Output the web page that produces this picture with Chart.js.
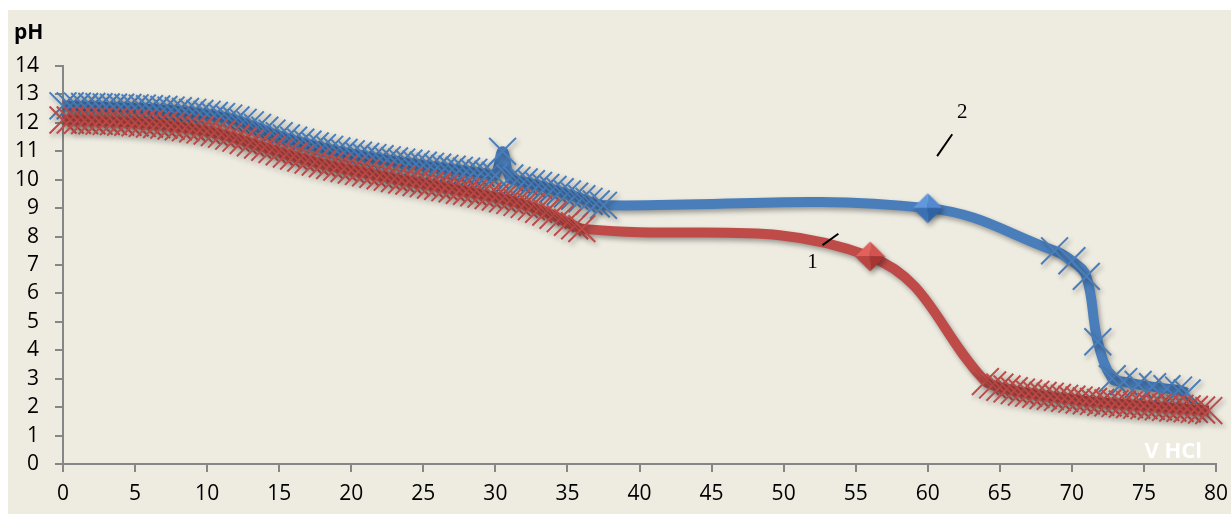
<!DOCTYPE html>
<html>
<head>
<meta charset="utf-8">
<script src="https://cdn.jsdelivr.net/npm/chart.js@4.4.1/dist/chart.umd.min.js"></script>
<style>
  html, body { margin: 0; padding: 0; background: #ffffff; }
  canvas { display: block; }
</style>
</head>
<body>
<canvas id="titration" width="1231" height="514"></canvas>
<script>
// Titration curves: pH against added volume of HCl (mL)

// Curve 1 (red)
const redVolume = [0,0.5,1,1.5,2,2.5,3,3.5,4,4.5,5,5.5,6,6.5,7,7.5,8,8.5,9,9.5,
  10,10.5,11,11.5,12,12.5,13,13.5,14,14.5,15,15.5,16,16.5,17,17.5,18,18.5,19,19.5,
  20,20.5,21,21.5,22,22.5,23,23.5,24,24.5,25,25.5,26,26.5,27,27.5,28,28.5,29,29.5,
  30,30.5,31,31.5,32,32.5,33,33.5,34,34.5,35,35.5,36,
  56,
  64,64.5,65,65.5,66,66.5,67,67.5,68,68.5,69,69.5,70,70.5,71,71.5,72,72.5,73,73.5,
  74,74.5,75,75.5,76,76.5,77,77.5,78,78.5,79,79.5];
const redPH = [12.1,12.1,12.09,12.08,12.07,12.06,12.05,12.04,12.03,12.02,
  12.0,11.98,11.96,11.94,11.92,11.89,11.86,11.83,11.79,11.75,
  11.71,11.66,11.6,11.53,11.46,11.38,11.3,11.22,11.14,11.06,
  10.98,10.9,10.83,10.76,10.69,10.62,10.56,10.5,10.44,10.39,
  10.34,10.29,10.24,10.19,10.14,10.09,10.04,9.99,9.95,9.9,
  9.86,9.81,9.77,9.72,9.68,9.63,9.59,9.54,9.49,9.44,
  9.39,9.33,9.27,9.2,9.13,9.05,8.96,8.86,8.75,8.63,
  8.5,8.38,8.28,
  7.3,
  2.9,2.78,2.7,2.64,2.58,2.53,2.49,2.45,2.41,2.38,
  2.34,2.31,2.28,2.25,2.22,2.2,2.17,2.15,2.13,2.11,
  2.09,2.07,2.05,2.03,2.01,1.99,1.97,1.96,1.94,1.92,
  1.9,1.88];
const redEquivalence = 56;

// Curve 2 (blue)
const blueVolume = [0,0.5,1,1.5,2,2.5,3,3.5,4,4.5,5,5.5,6,6.5,7,7.5,8,8.5,9,9.5,
  10,10.5,11,11.5,12,12.5,13,13.5,14,14.5,15,15.5,16,16.5,17,17.5,18,18.5,19,19.5,
  20,20.5,21,21.5,22,22.5,23,23.5,24,24.5,25,25.5,26,26.5,27,27.5,28,28.5,29,29.5,
  30,30.5,31,31.5,32,32.5,33,33.5,34,34.5,35,35.5,36,36.5,37,37.5,
  60,
  68.8,70,71,71.8,72.8,73.6,74.6,75.6,76.6,77.4,78];
const bluePH = [12.6,12.6,12.59,12.58,12.58,12.57,12.56,12.55,12.55,12.54,
  12.53,12.52,12.5,12.49,12.47,12.45,12.43,12.4,12.37,12.33,
  12.3,12.26,12.22,12.17,12.1,12.02,11.93,11.84,11.74,11.64,
  11.55,11.47,11.39,11.32,11.25,11.19,11.13,11.07,11.01,10.96,
  10.91,10.86,10.82,10.78,10.74,10.7,10.66,10.62,10.58,10.55,
  10.51,10.47,10.44,10.4,10.37,10.33,10.3,10.26,10.23,10.19,
  10.15,11.0,10.06,9.98,9.92,9.86,9.8,9.73,9.66,9.58,
  9.5,9.42,9.33,9.24,9.15,9.1,
  9.0,
  7.5,7.15,6.6,4.3,3.0,2.9,2.8,2.72,2.65,2.6,2.5];
const blueEquivalence = 60;

// Axis ranges and ticks
const volumeTicks = { min: 0, max: 80, step: 5 };
const phTicks = { min: 0, max: 14, step: 1 };

// Curve numbers with short leader strokes
const curveNames = ['1', '2'];
const nameVolume = [52.0, 62.4];
const namePH = [7.1, 12.35];
const leaderStart = [[52.7, 7.7], [60.65, 10.83]];
const leaderEnd = [[53.8, 8.1], [61.7, 11.6]];

const RED = '#be4b48';
const BLUE = '#4a7ebb';
const FONT = "'Open Sans', 'DejaVu Sans', sans-serif";

// Faceted diamond used for the equivalence points
function facetDiamond(shades, size) {
  const c = document.createElement('canvas');
  c.width = size; c.height = size;
  const g = c.getContext('2d');
  const m = size / 2;
  const top = [m, 0.5], right = [size - 0.5, m], bottom = [m, size - 0.5], left = [0.5, m];
  const faces = [[left, top], [top, right], [right, bottom], [bottom, left]];
  faces.forEach((f, i) => {
    g.beginPath();
    g.moveTo(m, m);
    g.lineTo(f[0][0], f[0][1]);
    g.lineTo(f[1][0], f[1][1]);
    g.closePath();
    g.fillStyle = shades[i];
    g.fill();
  });
  return c;
}
const redDiamond = facetDiamond(['#e2615c', '#d4534f', '#a63531', '#b94440'], 31);
const blueDiamond = facetDiamond(['#6198dc', '#5289d0', '#2f63a6', '#3c70b5'], 31);

function toPoints(xs, ys) {
  return xs.map((x, i) => ({ x: x, y: ys[i] }));
}

function curve(label, xs, ys, color, keyVolume, diamond) {
  return {
    label: label,
    data: toPoints(xs, ys),
    borderColor: color,
    backgroundColor: color,
    borderWidth: 10,
    tension: 0.4,
    pointStyle: (c) => (c.raw && c.raw.x === keyVolume ? diamond : 'crossRot'),
    pointRadius: 19,
    pointBorderWidth: 2,
    pointBorderColor: color,
    pointBackgroundColor: color,
    pointHoverRadius: 19,
    clip: false
  };
}

// Page panel
const panelPlugin = {
  id: 'panel',
  beforeDraw(chart) {
    const ctx = chart.ctx;
    ctx.save();
    ctx.fillStyle = '#ffffff';
    ctx.fillRect(0, 0, chart.width, chart.height);
    ctx.fillStyle = '#eeece1';
    ctx.fillRect(8, 10, chart.width - 8, chart.height - 10);
    ctx.restore();
  }
};

// Soft drop shadow under the curves and markers
const shadowPlugin = {
  id: 'curveShadow',
  beforeDatasetDraw(chart) {
    const ctx = chart.ctx;
    ctx.save();
    ctx.shadowColor = 'rgba(0,0,0,0.35)';
    ctx.shadowBlur = 5;
    ctx.shadowOffsetX = 2;
    ctx.shadowOffsetY = 3;
  },
  afterDatasetDraw(chart) {
    chart.ctx.restore();
  }
};

// Axis titles and curve numbers
const textPlugin = {
  id: 'texts',
  afterDraw(chart) {
    const ctx = chart.ctx;
    const xs = chart.scales.x, ys = chart.scales.y;
    const area = chart.chartArea;
    ctx.save();
    ctx.fillStyle = '#000000';
    ctx.font = 'bold 21px ' + FONT;
    ctx.textAlign = 'left';
    ctx.textBaseline = 'alphabetic';
    ctx.fillText('pH', 14, 39);

    ctx.fillStyle = '#ffffff';
    ctx.font = 'bold 22px ' + FONT;
    ctx.textAlign = 'right';
    ctx.fillText('V HCl', area.right - 14, area.bottom - 6);

    ctx.fillStyle = '#000000';
    ctx.strokeStyle = '#000000';
    ctx.lineWidth = 2;
    ctx.font = '21px "Liberation Serif", "DejaVu Serif", serif';
    ctx.textAlign = 'center';
    ctx.textBaseline = 'middle';
    curveNames.forEach((name, i) => {
      ctx.fillText(name, xs.getPixelForValue(nameVolume[i]), ys.getPixelForValue(namePH[i]));
      ctx.beginPath();
      ctx.moveTo(xs.getPixelForValue(leaderStart[i][0]), ys.getPixelForValue(leaderStart[i][1]));
      ctx.lineTo(xs.getPixelForValue(leaderEnd[i][0]), ys.getPixelForValue(leaderEnd[i][1]));
      ctx.stroke();
    });
    ctx.restore();
  }
};

const axisColor = '#868686';

new Chart(document.getElementById('titration'), {
  type: 'line',
  data: {
    datasets: [
      curve('1', redVolume, redPH, RED, redEquivalence, redDiamond),
      curve('2', blueVolume, bluePH, BLUE, blueEquivalence, blueDiamond)
    ]
  },
  options: {
    responsive: false,
    animation: false,
    devicePixelRatio: 1,
    layout: { autoPadding: false, padding: { top: 66, right: 15, bottom: 0, left: 0 } },
    plugins: { legend: { display: false }, tooltip: { enabled: false } },
    scales: {
      x: {
        type: 'linear',
        min: volumeTicks.min,
        max: volumeTicks.max,
        afterFit(scale) { scale.height = 50; scale.paddingLeft = 0; scale.paddingRight = 0; },
        ticks: { stepSize: volumeTicks.step, color: '#000000', padding: 9,
                 font: { family: FONT, size: 21 }, maxRotation: 0 },
        grid: { drawOnChartArea: false, drawTicks: true, tickLength: 8, color: axisColor, lineWidth: 2 },
        border: { color: axisColor, width: 2 }
      },
      y: {
        min: phTicks.min,
        max: phTicks.max,
        afterFit(scale) { scale.width = 63; scale.paddingTop = 0; scale.paddingBottom = 0; },
        ticks: { stepSize: phTicks.step, color: '#000000', padding: 16,
                 font: { family: FONT, size: 21 } },
        grid: { drawOnChartArea: false, drawTicks: true, tickLength: 8, color: axisColor, lineWidth: 2 },
        border: { color: axisColor, width: 2 }
      }
    }
  },
  plugins: [panelPlugin, shadowPlugin, textPlugin]
});
</script>
</body>
</html>
